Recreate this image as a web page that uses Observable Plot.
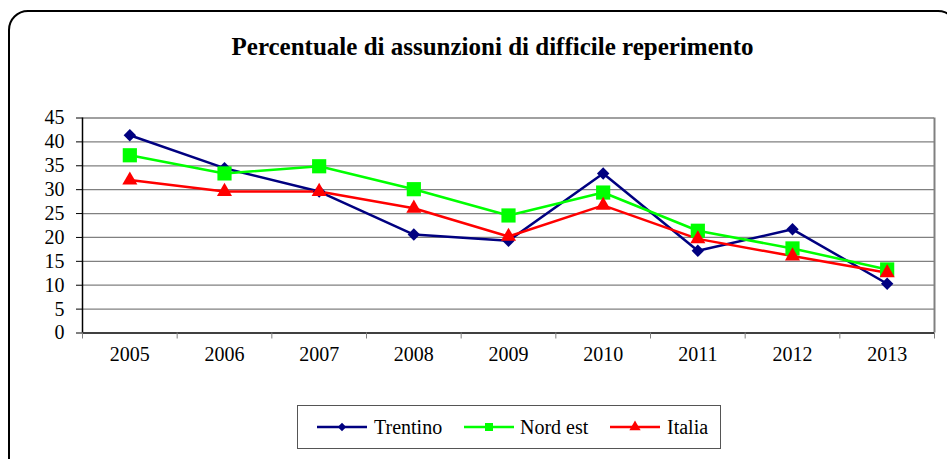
<!DOCTYPE html>
<html>
<head>
<meta charset="utf-8">
<script src="https://cdn.jsdelivr.net/npm/d3@7"></script>
<script src="https://cdn.jsdelivr.net/npm/@observablehq/plot@0.6"></script>
<style>
  html, body { margin: 0; padding: 0; background: #fff; width: 947px; height: 459px; overflow: hidden; }
  #frame { position: absolute; left: 8px; top: 10px; width: 950px; height: 470px; border: 2px solid #000; border-radius: 20px; box-sizing: border-box; }
  #title { position: absolute; left: 0; top: 33px; width: 985px; text-align: center; font: bold 25px "Liberation Serif", "Times New Roman", serif; color: #000; }
  #chart { position: absolute; left: 0; top: 0; }
  #legend { position: absolute; left: 297px; top: 405px; width: 424px; height: 44px; border: 1px solid #555; box-sizing: border-box; background: #fff; }
</style>
</head>
<body>
<div id="frame"></div>
<div id="title">Percentuale di assunzioni di difficile reperimento</div>
<div id="chart"></div>
<div id="legend"></div>
<script>
const years = [2005, 2006, 2007, 2008, 2009, 2010, 2011, 2012, 2013];
const trentino = [41.4, 34.5, 29.6, 20.6, 19.3, 33.4, 17.2, 21.7, 10.3];
const nordEst  = [37.2, 33.4, 34.9, 30.1, 24.6, 29.4, 21.4, 17.7, 13.3];
const italia   = [32.0, 29.6, 29.6, 26.1, 20.2, 26.7, 19.7, 16.1, 12.6];
const seriesNames = ["Trentino", "Nord est", "Italia"];
const seriesColors = ["#000080", "#00FF00", "#FF0000"];
const seriesSymbols = ["diamond2", "square", "triangle"];
const seriesR = [5.6, 8, 5.6];
const yTicks = [0, 5, 10, 15, 20, 25, 30, 35, 40, 45];

const seriesValues = [trentino, nordEst, italia];
const data = [];
seriesNames.forEach((name, i) => {
  years.forEach((yr, j) => data.push({series: name, year: yr, value: seriesValues[i][j]}));
});
const bandEdges = years.map(y => y - 0.5).concat([years[years.length - 1] + 0.5]);
const xDomain = [bandEdges[0], bandEdges[bandEdges.length - 1]];

const marks = [
  Plot.gridY(yTicks.slice(1), {stroke: "#808080", strokeOpacity: 1, strokeWidth: 1.3}),
  Plot.ruleX([xDomain[1]], {stroke: "#808080", strokeWidth: 2}),
  Plot.ruleX([xDomain[0]], {stroke: "#000", strokeWidth: 1.5}),
  Plot.ruleY([0], {stroke: "#000", strokeWidth: 1.5}),
  Plot.axisY({ticks: yTicks, tickSize: 6, tickPadding: 12, fontSize: 20, tickFormat: d => d, label: null}),
  Plot.axisX({ticks: bandEdges, tickSize: 6, tickFormat: () => "", stroke: "#808080", label: null}),
  Plot.axisX({ticks: years, tickSize: 0, tickPadding: 14, fontSize: 20, tickFormat: d => String(d), label: null})
];
seriesNames.forEach((name, i) => {
  const sub = data.filter(d => d.series === name);
  marks.push(Plot.line(sub, {x: "year", y: "value", stroke: seriesColors[i], strokeWidth: 2.5}));
});
seriesNames.forEach((name, i) => {
  const sub = data.filter(d => d.series === name);
  marks.push(Plot.dot(sub, {x: "year", y: "value", fill: seriesColors[i], stroke: "none", symbol: seriesSymbols[i], r: seriesR[i]}));
});

const chart = Plot.plot({
  width: 947,
  height: 380,
  marginLeft: 82,
  marginRight: 13,
  marginTop: 117.5,
  marginBottom: 47.5,
  style: {fontFamily: "'Liberation Serif', 'Times New Roman', serif", color: "#000", background: "transparent", overflow: "visible"},
  x: {domain: xDomain, axis: null},
  y: {domain: [0, 45], axis: null},
  marks
});
document.getElementById("chart").appendChild(chart);

// Legend
const legend = d3.select("#legend");
const lsvg = legend.append("svg").attr("width", 424).attr("height", 44);
const itemX = [19, 166, 312];
const textX = [76, 222, 369];
const symbolMap = {diamond2: d3.symbolDiamond2, square: d3.symbolSquare, triangle: d3.symbolTriangle};
const legendSizes = [45, 64, 55];
seriesNames.forEach((name, i) => {
  const g = lsvg.append("g");
  g.append("line").attr("x1", itemX[i]).attr("x2", itemX[i] + 50).attr("y1", 21).attr("y2", 21)
    .attr("stroke", seriesColors[i]).attr("stroke-width", 2.5);
  g.append("path").attr("d", d3.symbol(symbolMap[seriesSymbols[i]], legendSizes[i])())
    .attr("transform", `translate(${itemX[i] + 25},21)`).attr("fill", seriesColors[i]);
  g.append("text").attr("x", textX[i]).attr("y", 28).text(name)
    .attr("font-family", "'Liberation Serif', 'Times New Roman', serif").attr("font-size", 20).attr("fill", "#000");
});
</script>
</body>
</html>
